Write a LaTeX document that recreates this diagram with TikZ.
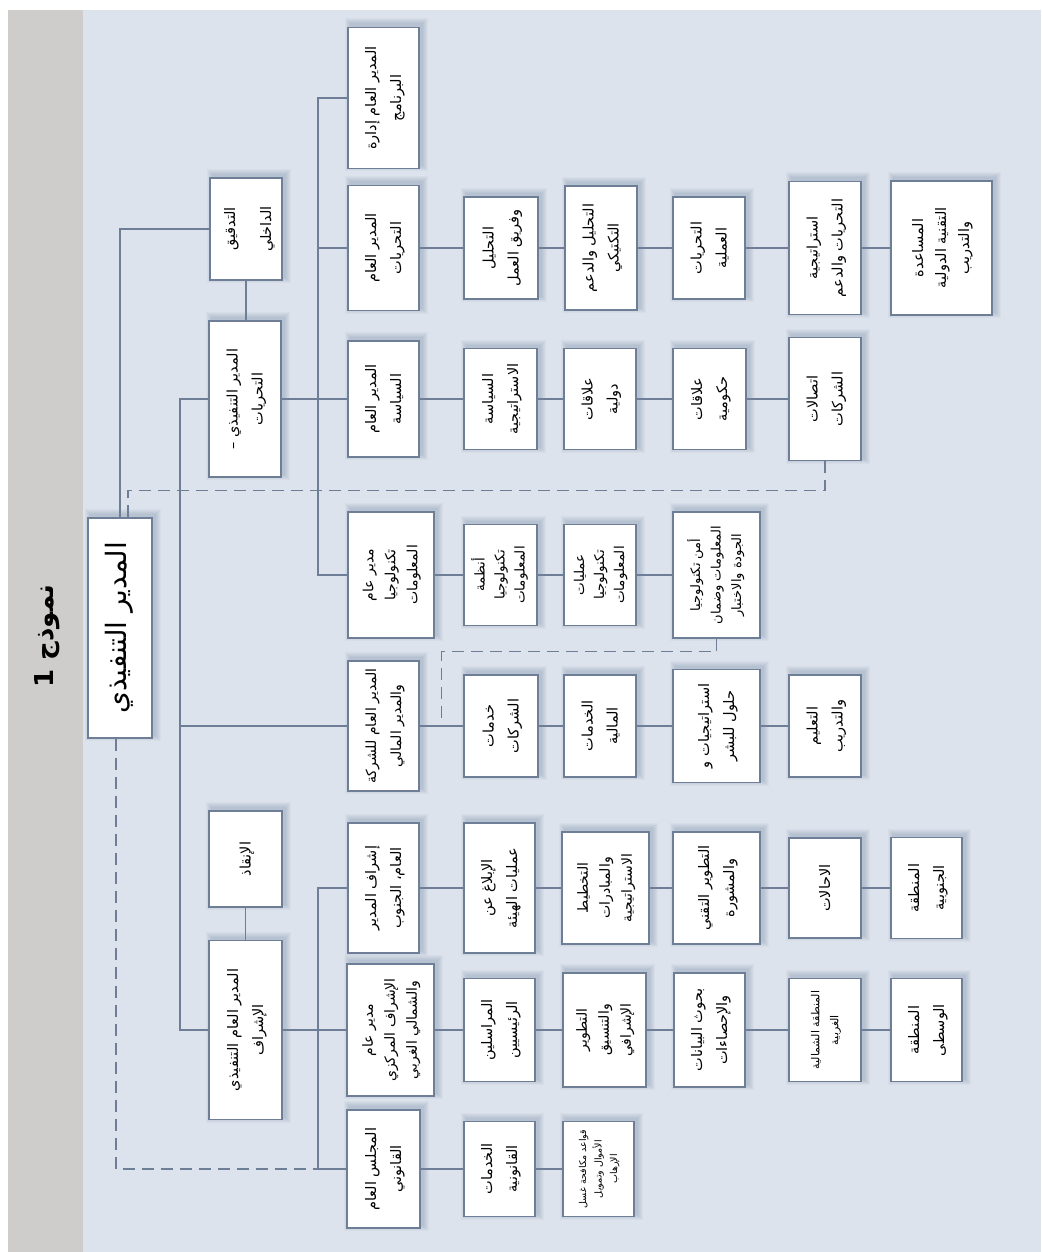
\documentclass[tikz,border=0pt]{standalone}
\usepackage{fontspec}
\usetikzlibrary{calc}
\TeXXeTstate=1
\newfontfamily\arabicfont[Script=Arabic]{DejaVu Sans}
\newcommand\AR[1]{\beginR#1\endR}
\definecolor{bgband}{HTML}{CFCDCB}
\definecolor{bgmain}{HTML}{DDE3EC}
\definecolor{edge}{HTML}{6E7E96}
\definecolor{shad}{HTML}{5F7699}
\newcommand\bx[7][]{%
  \foreach \r in {1,...,6}{\fill[shad, fill opacity=0.055] ({#2+3-\r},{#4+#5/2-3+\r}) rectangle ({#3+3+\r},{#4-#5/2-3-\r});}
  \node[box,#1,minimum width={(#3-#2)*1pt},minimum height={#5*1pt}] (#6) at ({(#2+#3)/2},#4) {\rotatebox{90}{\begin{tabular}{@{}c@{}}#7\end{tabular}}};}
\tikzset{
  box/.style={draw=edge, line width=1.2pt, fill=white, inner sep=0pt, rectangle,
    font=\fontsize{14.5}{25}\selectfont\arabicfont},
  fa/.style={font=\fontsize{14}{22}\selectfont\arabicfont},
  fb/.style={font=\fontsize{13.5}{20}\selectfont\arabicfont},
  conn/.style={draw=edge, line width=1.4pt},
  dsh/.style={draw=edge, line width=1.6pt, dash pattern=on 12pt off 7pt},
}
\begin{document}
\begin{tikzpicture}[x=1pt,y=-1pt]
\useasboundingbox (0,0) rectangle (1041,1252);
\fill[white] (0,0) rectangle (1041,1252);
\fill[bgband] (8,10) rectangle (83,1252);
\fill[bgmain] (83,10) rectangle (1041,1252);
\node[font=\fontsize{26}{30}\selectfont\arabicfont\bfseries, rotate=90] (title) at (47,636) {\AR{نموذج 1}};
% root
\bx[font=\fontsize{28}{32}\selectfont\arabicfont]{88}{152}{628}{220}{root}{\AR{المدير التنفيذي}}
% level 1
\bx[font=\fontsize{14.5}{36}\selectfont\arabicfont]{210}{282}{229}{102}{aud}{\AR{التدقيق}\\\AR{الداخلي}}
\bx{209}{281}{399}{156}{inv}{\AR{المدير التنفيذي –}\\\AR{التحريات}}
\bx{209}{282}{859}{96}{resc}{\AR{الإنقاذ}}
\bx{209}{282}{1030}{179}{sup}{\AR{المدير العام التنفيذي}\\\AR{الإشراف}}
% row A
\bx{348}{419}{98}{141}{prog}{\AR{المدير العام إدارة}\\\AR{البرنامج}}
% row B
\bx{348}{419}{248}{125}{gi}{\AR{المدير العام}\\\AR{التحريات}}
\bx{464}{538}{248}{102}{b3}{\AR{التحليل}\\\AR{وفريق العمل}}
\bx{565}{637}{248}{124}{b4}{\AR{التحليل والدعم}\\\AR{التكتيكي}}
\bx{673}{745}{248}{102}{b5}{\AR{التحريات}\\\AR{العملية}}
\bx{789}{861}{248}{133}{b6}{\AR{استراتيجية}\\\AR{التحريات والدعم}}
\bx[font=\fontsize{14.5}{23}\selectfont\arabicfont]{891}{992}{248}{134}{b7}{\AR{المساعدة}\\\AR{التقنية الدولية}\\\AR{والتدريب}}
% row C
\bx{348}{419}{399}{116}{gp}{\AR{المدير العام}\\\AR{السياسة}}
\bx{464}{537}{399}{101}{c3}{\AR{السياسة}\\\AR{الاستراتيجية}}
\bx{564}{636}{399}{101}{c4}{\AR{علاقات}\\\AR{دولية}}
\bx{673}{746}{399}{101}{c5}{\AR{علاقات}\\\AR{حكومية}}
\bx{789}{861}{399}{123}{c6}{\AR{اتصالات}\\\AR{الشركات}}
% row D
\bx[fa]{348}{434}{575}{126}{it}{\AR{مدير عام}\\\AR{تكنولوجيا}\\\AR{المعلومات}}
\bx[fb]{464}{537}{575}{101}{d3}{\AR{أنظمة}\\\AR{تكنولوجيا}\\\AR{المعلومات}}
\bx[fb]{564}{636}{575}{101}{d4}{\AR{عمليات}\\\AR{تكنولوجيا}\\\AR{المعلومات}}
\bx[font=\fontsize{13}{20.5}\selectfont\arabicfont]{673}{760}{575}{126}{d5}{\AR{أمن تكنولوجيا}\\\AR{المعلومات وضمان}\\\AR{الجودة والاختبار}}
% row E
\bx[font=\fontsize{14}{25}\selectfont\arabicfont]{348}{419}{726}{130}{co}{\AR{المدير العام للشركة}\\\AR{والمدير المالي}}
\bx{464}{538}{726}{102}{e3}{\AR{خدمات}\\\AR{الشركات}}
\bx{564}{636}{726}{102}{e4}{\AR{الخدمات}\\\AR{المالية}}
\bx{673}{760}{726}{113}{e5}{\AR{استراتيجيات و}\\\AR{حلول للبشر}}
\bx{789}{861}{726}{102}{e6}{\AR{التعليم}\\\AR{والتدريب}}
% row F
\bx{348}{419}{888}{130}{so}{\AR{إشراف المدير}\\\AR{العام، الجنوب}}
\bx{464}{535}{888}{130}{f3}{\AR{الإبلاغ عن}\\\AR{عمليات الهيئة}}
\bx[fa]{562}{649}{888}{112}{f4}{\AR{التخطيط}\\\AR{والمبادرات}\\\AR{الاستراتيجية}}
\bx{673}{760}{888}{112}{f5}{\AR{التطوير التقني}\\\AR{والمشورة}}
\bx{789}{861}{888}{100}{f6}{\AR{الاحالات}}
\bx{891}{962}{888}{101}{f7}{\AR{المنطقة}\\\AR{الجنوبية}}
% row G
\bx[fa]{347}{434}{1030}{132}{cn}{\AR{مدير عام}\\\AR{الإشراف المركزي}\\\AR{والشمالي الغربي}}
\bx{464}{535}{1030}{103}{g3}{\AR{المراسلين}\\\AR{الرئيسيين}}
\bx[fa]{563}{646}{1030}{114}{g4}{\AR{التطوير}\\\AR{والتنسيق}\\\AR{الإشرافي}}
\bx{674}{745}{1030}{114}{g5}{\AR{بحوث البيانات}\\\AR{والإحصاءات}}
\bx[font=\fontsize{11}{19}\selectfont\arabicfont]{789}{861}{1030}{103}{g6}{\AR{المنطقة الشمالية}\\\AR{الغربية}}
\bx{891}{962}{1030}{103}{g7}{\AR{المنطقة}\\\AR{الوسطى}}
% row H
\bx{347}{420}{1169}{118}{lg}{\AR{المجلس العام}\\\AR{القانوني}}
\bx{464}{535}{1169}{95}{h3}{\AR{الخدمات}\\\AR{القانونية}}
\bx[font=\fontsize{9.5}{15.5}\selectfont\arabicfont]{563}{634}{1169}{95}{h4}{\AR{قواعد مكافحة غسل}\\\AR{الأموال وتمويل}\\\AR{الإرهاب}}
% connectors
\coordinate (sp) at (318,0);
\coordinate (lb) at (180,0);
\coordinate (dj) at ($(co.east)!0.5!(e3.west)$);
\draw[conn] (root.north) |- (aud.west);
\draw[conn] (aud.south) -- (aud.south |- inv.north);
\draw[conn] (inv.east) -- (gp.west);
\draw[conn] (prog.west) -- (prog.west -| sp) -- (it.west -| sp) -- (it.west);
\draw[conn] (gi.west) -- (gi.west -| sp);
\draw[conn] (inv.west) -- (inv.west -| lb) -- (sup.west -| lb) -- (sup.west);
\draw[conn] (co.west) -- (co.west -| lb);
\draw[conn] (resc.south) -- (resc.south |- sup.north);
\draw[conn] (sup.east) -- (cn.west);
\draw[conn] (so.west) -- (so.west -| sp) -- (lg.west -| sp) -- (lg.west);
\foreach \a/\b in {gi/b3,b3/b4,b4/b5,b5/b6,b6/b7,gp/c3,c3/c4,c4/c5,c5/c6,it/d3,d3/d4,d4/d5,co/e3,e3/e4,e4/e5,e5/e6,so/f3,f3/f4,f4/f5,f5/f6,f6/f7,cn/g3,g3/g4,g4/g5,g5/g6,g6/g7,lg/h3,h3/h4}
  \draw[conn] (\a.east) -- (\b.west);
\draw[dsh] ([xshift=8pt]root.north) -- ++(0,-27) -| (c6.south);
\draw[dsh] ([xshift=-4pt]root.south) |- (lg.west -| sp);
\draw[dsh] (d5.south) -- ++(0,13) -| (dj);
\end{tikzpicture}
\end{document}
